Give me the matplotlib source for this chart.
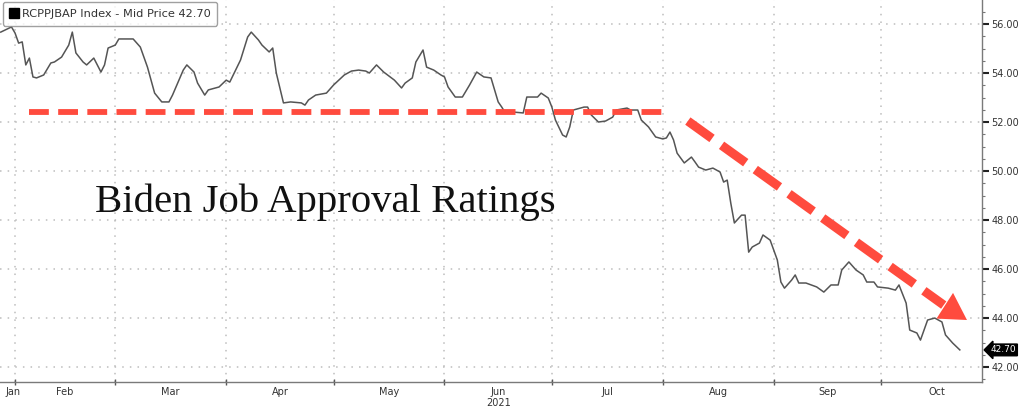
import matplotlib
matplotlib.use("Agg")
import matplotlib.pyplot as plt
import matplotlib.dates as mdates
from matplotlib.lines import Line2D
from matplotlib.ticker import MultipleLocator, FormatStrFormatter, FixedLocator, NullFormatter
import pandas as pd

# ---------------- data ----------------
dates = ["2021-01-28","2021-01-31",
 "2021-02-01","2021-02-02","2021-02-03","2021-02-04","2021-02-05","2021-02-06","2021-02-07","2021-02-09","2021-02-11","2021-02-12",
 "2021-02-14","2021-02-16","2021-02-17","2021-02-18","2021-02-20","2021-02-21","2021-02-23","2021-02-25","2021-02-26","2021-02-27",
 "2021-03-01","2021-03-02","2021-03-06","2021-03-08","2021-03-10","2021-03-12","2021-03-14","2021-03-16","2021-03-17","2021-03-20",
 "2021-03-21","2021-03-23","2021-03-24","2021-03-26","2021-03-27","2021-03-30",
 "2021-04-01","2021-04-02","2021-04-05","2021-04-07","2021-04-08","2021-04-10","2021-04-11","2021-04-13","2021-04-14","2021-04-15",
 "2021-04-17","2021-04-19","2021-04-22","2021-04-23","2021-04-24","2021-04-26","2021-04-29",
 "2021-05-01","2021-05-04","2021-05-06","2021-05-08","2021-05-10","2021-05-11","2021-05-13","2021-05-15","2021-05-18","2021-05-20",
 "2021-05-21","2021-05-23","2021-05-24","2021-05-26","2021-05-27","2021-05-29","2021-05-31",
 "2021-06-01","2021-06-02","2021-06-04","2021-06-06","2021-06-08","2021-06-10","2021-06-12","2021-06-14","2021-06-16","2021-06-17",
 "2021-06-18","2021-06-20","2021-06-23","2021-06-24","2021-06-27","2021-06-28","2021-06-30",
 "2021-07-01","2021-07-02","2021-07-04","2021-07-05","2021-07-06","2021-07-07","2021-07-10","2021-07-11","2021-07-12","2021-07-14",
 "2021-07-16","2021-07-18","2021-07-19","2021-07-22","2021-07-23","2021-07-25","2021-07-26","2021-07-28","2021-07-30",
 "2021-08-01","2021-08-02","2021-08-03","2021-08-04","2021-08-05","2021-08-07","2021-08-09","2021-08-10","2021-08-11","2021-08-13",
 "2021-08-15","2021-08-17","2021-08-18","2021-08-19","2021-08-20","2021-08-21","2021-08-23","2021-08-24","2021-08-25","2021-08-26",
 "2021-08-28","2021-08-29","2021-08-31",
 "2021-09-02","2021-09-03","2021-09-04","2021-09-06","2021-09-07","2021-09-08","2021-09-10","2021-09-13","2021-09-15","2021-09-17",
 "2021-09-19","2021-09-20","2021-09-22","2021-09-24","2021-09-26","2021-09-27","2021-09-29","2021-09-30",
 "2021-10-03","2021-10-05","2021-10-06","2021-10-08","2021-10-09","2021-10-11","2021-10-12","2021-10-14","2021-10-16","2021-10-18",
 "2021-10-19","2021-10-21","2021-10-23"]

approval = [55.67,55.88,
 55.63,55.22,55.27,54.33,54.61,53.84,53.80,53.92,54.41,54.45,
 54.65,55.14,55.67,54.82,54.45,54.33,54.61,54.04,54.33,55.02,
 55.14,55.39,55.39,55.06,54.24,53.18,52.82,52.82,53.10,54.12,
 54.33,54.04,53.59,53.10,53.31,53.43,
 53.71,53.63,54.53,55.47,55.67,55.35,55.14,54.86,55.02,54.00,
 52.78,52.82,52.78,52.69,52.90,53.10,53.18,
 53.51,53.92,54.08,54.12,54.08,54.00,54.33,54.04,53.71,53.39,
 53.59,53.80,54.45,54.94,54.24,54.12,53.92,
 53.84,53.43,53.02,53.02,53.51,54.04,53.84,53.80,52.82,52.61,
 52.37,52.41,52.37,53.02,53.02,53.18,52.98,
 52.61,52.08,51.47,51.39,51.80,52.49,52.61,52.61,52.29,52.00,
 52.04,52.20,52.49,52.57,52.49,52.49,52.08,51.80,51.39,
 51.31,51.35,51.59,51.27,50.73,50.33,50.57,50.37,50.16,50.04,
 50.12,49.96,49.55,49.63,48.69,47.88,48.20,48.20,46.69,46.90,
 47.06,47.39,47.18,
 46.37,45.47,45.22,45.55,45.76,45.43,45.43,45.27,45.06,45.35,
 45.35,45.96,46.29,45.96,45.76,45.47,45.47,45.27,
 45.22,45.14,45.35,44.61,43.51,43.39,43.10,43.92,44.00,43.84,
 43.31,42.98,42.70]

month_labels = ["Jan","Feb","Mar","Apr","May","Jun","Jul","Aug","Sep","Oct"]
month_starts = ["2021-02-01","2021-03-01","2021-04-01","2021-05-01","2021-06-01",
                "2021-07-01","2021-08-01","2021-09-01","2021-10-01","2021-11-01"]
year_label = "2021"
y_ticks = [42, 44, 46, 48, 50, 52, 54, 56]
legend_text = "RCPPJBAP Index - Mid Price 42.70"
last_price = 42.70
title_text = "Biden Job Approval Ratings"

# annotation arrows (red dashed)
flat_dates = ["2021-02-05 00:00", "2021-08-01 00:00"]
flat_values = [52.42, 52.42]
down_dates = ["2021-08-08 00:00", "2021-10-18 12:00"]
down_values = [52.04, 44.53]
head_tip_date = "2021-10-25 00:00"
head_tip_value = 43.92

# ---------------- figure ----------------
x = pd.to_datetime(dates)
ms = pd.to_datetime(month_starts)

fig = plt.figure(figsize=(10.22, 4.09), dpi=100)
ax = fig.add_axes([0.0, 0.066, 0.9609, 0.934])

grid_c = "#bdbdbd"
for d in ms[:-1]:
    ax.axvline(d, color=grid_c, lw=1.1, ls=(0, (1, 4)), zorder=0)
for v in y_ticks:
    ax.axhline(v, color=grid_c, lw=1.1, ls=(0, (1, 4)), zorder=0)

ax.plot(x, approval, color="#555555", lw=1.1, zorder=3)

red = "#ff4b3e"
ax.plot(pd.to_datetime(flat_dates), flat_values, color=red, lw=4.2,
        dashes=(3.4, 1.6), solid_capstyle="butt", dash_capstyle="butt", zorder=4)
ax.plot(pd.to_datetime(down_dates), down_values, color=red, lw=6.5,
        dashes=(3.3, 1.3), dash_capstyle="butt", zorder=4)
ax.annotate("", xy=(pd.Timestamp(head_tip_date), head_tip_value),
            xytext=(pd.Timestamp(down_dates[-1]), down_values[-1]),
            arrowprops=dict(arrowstyle="-|>,head_length=0.95,head_width=0.55",
                            mutation_scale=20, color=red, lw=0,
                            shrinkA=0, shrinkB=0), zorder=5)

# axes limits
ax.set_xlim(pd.Timestamp("2021-01-27 19:00"), pd.Timestamp("2021-10-29 05:00"))
ax.set_ylim(41.39, 56.98)

# spines
for s in ["top", "left"]:
    ax.spines[s].set_visible(False)
for s in ["right", "bottom"]:
    ax.spines[s].set_color("#7a7a7a")
    ax.spines[s].set_linewidth(1.0)

# y axis on right
ax.yaxis.tick_right()
ax.yaxis.set_major_locator(FixedLocator(y_ticks))
ax.yaxis.set_minor_locator(MultipleLocator(0.5))
ax.yaxis.set_major_formatter(FormatStrFormatter("%.2f"))
ax.tick_params(axis="y", which="major", length=5, width=1.5, color="#222222",
               labelsize=7, labelcolor="#333333", pad=1.5, direction="out")
ax.tick_params(axis="y", which="minor", length=2, width=0.8, color="#777777", direction="out")

# x axis: ticks at month boundaries, labels at mid-month
ax.xaxis.set_major_locator(FixedLocator(mdates.date2num(ms[:-1])))
ax.xaxis.set_major_formatter(NullFormatter())
ax.tick_params(axis="x", which="major", length=4, width=1.0, color="#555555", direction="inout")
ax.tick_params(axis="x", which="minor", length=0)
label_pos = [pd.Timestamp("2021-01-31 12:00")]
for a, b in zip(ms[:-1], ms[1:]):
    label_pos.append(a + (b - a) / 2)
for lbl, p in zip(month_labels, label_pos):
    if p > pd.Timestamp("2021-10-29"):
        p = pd.Timestamp("2021-10-15")
    ax.text(p, -0.013, lbl, transform=ax.get_xaxis_transform(), ha="center", va="top",
            fontsize=7, color="#333333")
ax.text(label_pos[5], -0.043, year_label, transform=ax.get_xaxis_transform(),
        ha="center", va="top", fontsize=7, color="#333333")

# title text inside chart
ax.text(0.331, 0.445, title_text, transform=ax.transAxes, ha="center", va="baseline",
        fontsize=29.3, family="Liberation Serif", color="#111111")

# legend box
handle = Line2D([], [], marker="s", color="black", linestyle="None", markersize=7.5)
leg = ax.legend([handle], [legend_text], loc="upper left", bbox_to_anchor=(0.003, 0.995),
                fontsize=8.2, frameon=True, fancybox=True, handlelength=0.7,
                handletextpad=0.35, borderpad=0.6, borderaxespad=0.0)
leg.get_frame().set_edgecolor("#888888")
leg.get_frame().set_linewidth(1.0)
for t in leg.get_texts():
    t.set_color("#333333")

# last price tag
ax.annotate(f"{last_price:.2f}", xy=(1.0, last_price), xycoords=("axes fraction", "data"),
            xytext=(6, 0), textcoords="offset points", ha="left", va="center",
            fontsize=6.5, color="white",
            bbox=dict(boxstyle="larrow,pad=0.15", fc="black", ec="black"),
            annotation_clip=False)

fig.savefig("out.png", dpi=100)
